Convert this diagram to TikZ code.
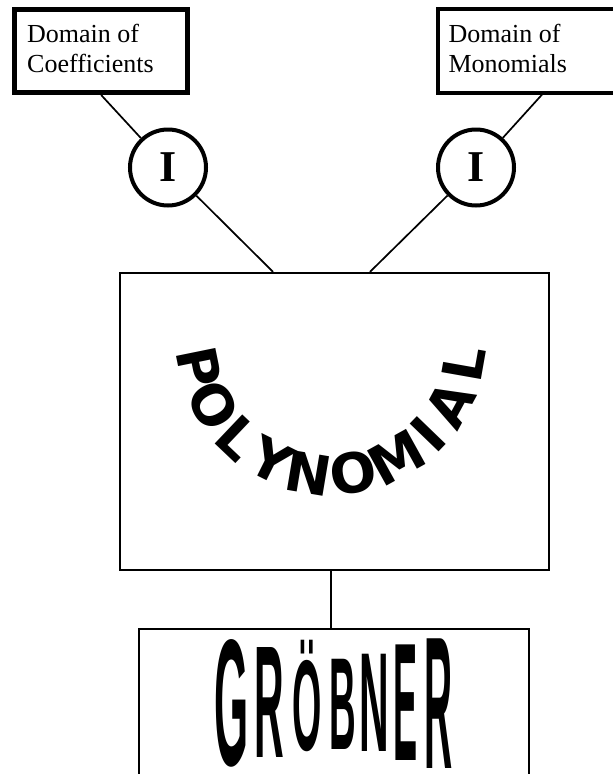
\documentclass[tikz,border=0pt]{standalone}
\usepackage{fontspec}
\setmainfont{Liberation Serif}
\newfontfamily\sansfam{Liberation Sans}
\newfontfamily\polyfam{DejaVu Sans}
\newcommand\grobfont{\sansfam\bfseries\fontsize{41}{41}\selectfont}
\usetikzlibrary{calc}
\begin{document}
\begin{tikzpicture}[x=1pt,y=-1pt,
  topbox/.style={draw, inner sep=0pt, minimum height=83.5pt},
  boxtext/.style={inner sep=0pt, anchor=north west, align=left, font=\fontsize{26}{30}\selectfont},
  ring/.style={circle, draw, line width=4pt, minimum size=76pt, inner sep=0pt, font=\bfseries\fontsize{44}{44}\selectfont},
  bigbox/.style={draw, line width=2.3pt, inner sep=0pt},
  conn/.style={line width=1.7pt},
  polyletter/.style={inner sep=0pt, font=\polyfam\bfseries\fontsize{55}{55}\selectfont},
  glyph/.style={anchor=base, inner sep=0pt, font=\grobfont}]
\useasboundingbox (0,0) rectangle (613,774);
% top boxes
\node[topbox, line width=5pt, minimum width=172.7pt] (cbox) at (101.15,50.75) {};
\node[boxtext] (ctext) at (27,23.9) {Domain of\\Coefficients};
\node[topbox, line width=4pt, minimum width=208pt] (mbox) at (542,50.85) {};
\node[boxtext] (mtext) at (448.3,23.9) {Domain of\\Monomials};
% circles
\node[ring] (c1) at (168,167.5) {I};
\node[ring] (c2) at (476,167.5) {I};
% main boxes
\node[bigbox, minimum width=429pt, minimum height=297pt] (poly) at (334.5,421.5) {};
\node[bigbox, minimum width=390pt, minimum height=191.2pt] (grob) at (334,724.4) {};
% connectors
\draw[conn] (cbox.south) -- (c1);
\draw[conn] (c1) -- ([xshift=-61.5pt]poly.north);
\draw[conn] (mbox.south) -- (c2);
\draw[conn] (c2) -- ([xshift=35.5pt]poly.north);
\draw[conn] ([xshift=-3.5pt]poly.south) -- ([xshift=-3pt]grob.north);
% arched POLYNOMIAL, letters placed along an arc
\coordinate (arcc) at (331,340);
\foreach \ch/\ang [count=\i] in {P/168.5, O/151, L/133.5, Y/116.5, N/99.5, O/80.5, M/61, I/44, A/28.5, L/10}
  \node[polyletter, rotate={90-\ang}] (p\i) at ($(arcc)+(\ang:135)$) {\ch};
% GROBNER letters
\node[glyph] (l1) at (232,765) {\scalebox{1.07}[4.4]{G}};
\node[glyph] (l2) at (269,757) {\scalebox{1}[3.9]{R}};
\node[glyph] (l3) at (307,750) {\scalebox{0.92}[3.15]{Ö}};
\node[glyph] (l4) at (343,749) {\scalebox{0.9}[3.2]{B}};
\node[glyph] (l5) at (374.5,751) {\scalebox{1}[3.45]{N}};
\node[glyph] (l6) at (406,760) {\scalebox{0.88}[4.1]{E}};
\node[glyph] (l7) at (439,768) {\scalebox{0.95}[4.6]{R}};
\end{tikzpicture}
\end{document}
